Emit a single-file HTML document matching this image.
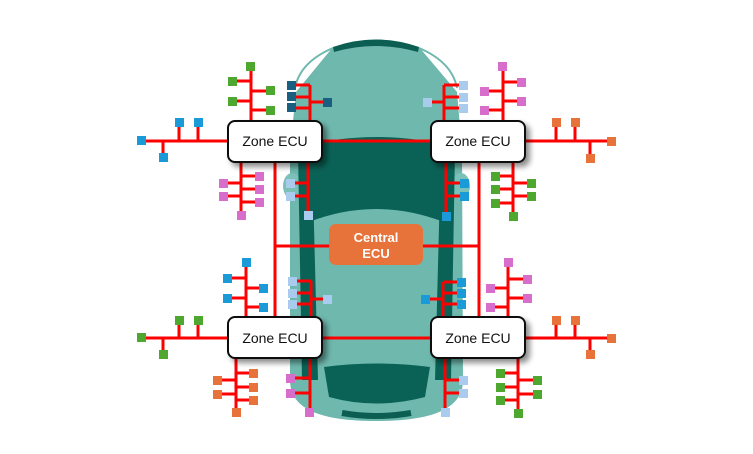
<!DOCTYPE html>
<html><head><meta charset="utf-8"><style>
html,body{margin:0;padding:0;background:#fff;}
svg{display:block;}
text{font-family:"Liberation Sans",sans-serif;}
</style></head><body>
<svg width="753" height="454" viewBox="0 0 753 454" xmlns="http://www.w3.org/2000/svg">
<defs>
<filter id="sh" x="-20%" y="-20%" width="150%" height="160%"><feGaussianBlur in="SourceAlpha" stdDeviation="3"/><feOffset dx="4" dy="4"/><feComponentTransfer><feFuncA type="linear" slope="0.45"/></feComponentTransfer><feMerge><feMergeNode/><feMergeNode in="SourceGraphic"/></feMerge></filter>
</defs>
<!-- car -->
<path d="M333 48 Q300 62 295 88 M419 48 Q452 62 457 88" fill="none" stroke="#6fb8ae" stroke-width="2"/>
<path d="M333 47 Q376 32 419 47 L457 92 L462 150 L463 380 C463 410 430 421 376 421 C322 421 290 410 290 380 L290 150 L296 92 Z" fill="#6fb8ae"/>
<path d="M333 47 Q376 32 419 47 L418 52 Q376 40 334 52 Z" fill="#0c5e52"/>
<ellipse cx="292" cy="186" rx="9" ry="13" fill="#7cc1b7"/>
<ellipse cx="461" cy="186" rx="9" ry="13" fill="#7cc1b7"/>
<path d="M298 150 L312 150 L318 380 L302 380 Z" fill="#0a6256"/>
<path d="M455 150 L441 150 L435 380 L451 380 Z" fill="#0a6256"/>
<path d="M303 146 Q376 128 450 146 L444 222 Q376 196 309 222 Z" fill="#0a6256"/>
<path d="M324 367 Q376 360 430 367 L425 397 Q376 410 329 397 Z" fill="#0a6256"/>
<path d="M342 413 Q376 419 411 413" fill="none" stroke="#0c5e52" stroke-width="6"/>
<g stroke="#ff0000" stroke-width="3" fill="none">
<line x1="322" y1="141" x2="430" y2="141"/>
<line x1="322" y1="338" x2="430" y2="338"/>
<line x1="275" y1="162" x2="275" y2="316"/>
<line x1="479" y1="162" x2="479" y2="316"/>
<line x1="275" y1="246" x2="330" y2="246"/>
<line x1="423" y1="246" x2="479" y2="246"/>
<line x1="141" y1="141" x2="227" y2="141"/><line x1="179" y1="141" x2="179" y2="125"/><line x1="198" y1="141" x2="198" y2="125"/><line x1="163" y1="141" x2="163" y2="155"/>
<line x1="251" y1="66" x2="251" y2="120"/><line x1="233" y1="81" x2="251" y2="81"/><line x1="233" y1="101" x2="251" y2="101"/><line x1="251" y1="91" x2="270" y2="91"/><line x1="251" y1="110" x2="270" y2="110"/>
<line x1="296" y1="85" x2="310" y2="85"/><line x1="310" y1="85" x2="310" y2="120"/><line x1="296" y1="97" x2="310" y2="97"/><line x1="296" y1="108" x2="310" y2="108"/><line x1="310" y1="102" x2="325" y2="102"/>
<line x1="241" y1="162" x2="241" y2="214"/><line x1="223" y1="183" x2="241" y2="183"/><line x1="223" y1="196" x2="241" y2="196"/><line x1="241" y1="176" x2="258" y2="176"/><line x1="241" y1="189" x2="258" y2="189"/><line x1="241" y1="202" x2="258" y2="202"/>
<line x1="308" y1="162" x2="308" y2="214"/><line x1="290" y1="183" x2="308" y2="183"/><line x1="290" y1="196" x2="308" y2="196"/>
<line x1="141" y1="338" x2="227" y2="338"/><line x1="179" y1="338" x2="179" y2="322"/><line x1="198" y1="338" x2="198" y2="322"/><line x1="163" y1="338" x2="163" y2="352"/>
<line x1="246" y1="262" x2="246" y2="316"/><line x1="228" y1="278" x2="246" y2="278"/><line x1="228" y1="298" x2="246" y2="298"/><line x1="246" y1="288" x2="262" y2="288"/><line x1="246" y1="307" x2="262" y2="307"/>
<line x1="296" y1="281" x2="311" y2="281"/><line x1="311" y1="281" x2="311" y2="316"/><line x1="296" y1="293" x2="311" y2="293"/><line x1="296" y1="304" x2="311" y2="304"/><line x1="311" y1="299" x2="325" y2="299"/>
<line x1="236" y1="359" x2="236" y2="410"/><line x1="218" y1="380" x2="236" y2="380"/><line x1="218" y1="394" x2="236" y2="394"/><line x1="236" y1="373" x2="252" y2="373"/><line x1="236" y1="387" x2="252" y2="387"/><line x1="236" y1="400" x2="252" y2="400"/>
<line x1="310" y1="359" x2="310" y2="410"/><line x1="291" y1="378" x2="310" y2="378"/><line x1="291" y1="393" x2="310" y2="393"/>
<line x1="526" y1="141" x2="612" y2="141"/><line x1="556" y1="141" x2="556" y2="125"/><line x1="575" y1="141" x2="575" y2="125"/><line x1="590" y1="141" x2="590" y2="156"/>
<line x1="503" y1="66" x2="503" y2="120"/><line x1="485" y1="91" x2="503" y2="91"/><line x1="485" y1="110" x2="503" y2="110"/><line x1="503" y1="82" x2="521" y2="82"/><line x1="503" y1="101" x2="521" y2="101"/>
<line x1="444" y1="85" x2="459" y2="85"/><line x1="444" y1="85" x2="444" y2="120"/><line x1="444" y1="97" x2="459" y2="97"/><line x1="444" y1="108" x2="459" y2="108"/><line x1="430" y1="102" x2="444" y2="102"/>
<line x1="513" y1="162" x2="513" y2="214"/><line x1="495" y1="176" x2="513" y2="176"/><line x1="495" y1="189" x2="513" y2="189"/><line x1="495" y1="203" x2="513" y2="203"/><line x1="513" y1="183" x2="531" y2="183"/><line x1="513" y1="196" x2="531" y2="196"/>
<line x1="446" y1="162" x2="446" y2="214"/><line x1="446" y1="183" x2="463" y2="183"/><line x1="446" y1="196" x2="463" y2="196"/>
<line x1="526" y1="338" x2="612" y2="338"/><line x1="556" y1="338" x2="556" y2="322"/><line x1="575" y1="338" x2="575" y2="322"/><line x1="590" y1="338" x2="590" y2="352"/>
<line x1="508" y1="262" x2="508" y2="316"/><line x1="490" y1="288" x2="508" y2="288"/><line x1="490" y1="307" x2="508" y2="307"/><line x1="508" y1="279" x2="527" y2="279"/><line x1="508" y1="298" x2="527" y2="298"/>
<line x1="443" y1="282" x2="458" y2="282"/><line x1="443" y1="282" x2="443" y2="316"/><line x1="443" y1="293" x2="458" y2="293"/><line x1="443" y1="304" x2="458" y2="304"/><line x1="428" y1="299" x2="443" y2="299"/>
<line x1="518" y1="359" x2="518" y2="412"/><line x1="500" y1="373" x2="518" y2="373"/><line x1="500" y1="387" x2="518" y2="387"/><line x1="500" y1="400" x2="518" y2="400"/><line x1="518" y1="380" x2="537" y2="380"/><line x1="518" y1="394" x2="537" y2="394"/>
<line x1="445" y1="359" x2="445" y2="410"/><line x1="445" y1="380" x2="463" y2="380"/><line x1="445" y1="393" x2="463" y2="393"/>
</g>
<g fill="#1a9ad6"><rect x="137" y="136" width="9" height="9"/><rect x="175" y="118" width="9" height="9"/><rect x="194" y="118" width="9" height="9"/><rect x="159" y="153" width="9" height="9"/>
<rect x="242" y="258" width="9" height="9"/><rect x="223" y="274" width="9" height="9"/><rect x="223" y="294" width="9" height="9"/><rect x="259" y="284" width="9" height="9"/><rect x="259" y="303" width="9" height="9"/>
<rect x="460" y="179" width="9" height="9"/><rect x="460" y="192" width="9" height="9"/><rect x="442" y="212" width="9" height="9"/>
<rect x="457" y="278" width="9" height="9"/><rect x="457" y="289" width="9" height="9"/><rect x="457" y="300" width="9" height="9"/><rect x="421" y="295" width="9" height="9"/></g>
<g fill="#4ea72e"><rect x="246" y="62" width="9" height="9"/><rect x="228" y="77" width="9" height="9"/><rect x="228" y="97" width="9" height="9"/><rect x="266" y="86" width="9" height="9"/><rect x="266" y="106" width="9" height="9"/>
<rect x="137" y="333" width="9" height="9"/><rect x="175" y="316" width="9" height="9"/><rect x="194" y="316" width="9" height="9"/><rect x="159" y="350" width="9" height="9"/>
<rect x="491" y="172" width="9" height="9"/><rect x="491" y="185" width="9" height="9"/><rect x="491" y="199" width="9" height="9"/><rect x="527" y="179" width="9" height="9"/><rect x="527" y="192" width="9" height="9"/><rect x="509" y="212" width="9" height="9"/>
<rect x="496" y="369" width="9" height="9"/><rect x="496" y="383" width="9" height="9"/><rect x="496" y="396" width="9" height="9"/><rect x="533" y="376" width="9" height="9"/><rect x="533" y="390" width="9" height="9"/><rect x="514" y="409" width="9" height="9"/></g>
<g fill="#1a5e80"><rect x="287" y="81" width="9" height="9"/><rect x="287" y="92" width="9" height="9"/><rect x="287" y="103" width="9" height="9"/><rect x="323" y="98" width="9" height="9"/></g>
<g fill="#d86ecc"><rect x="219" y="179" width="9" height="9"/><rect x="219" y="192" width="9" height="9"/><rect x="255" y="172" width="9" height="9"/><rect x="255" y="185" width="9" height="9"/><rect x="255" y="198" width="9" height="9"/><rect x="237" y="211" width="9" height="9"/>
<rect x="286" y="374" width="9" height="9"/><rect x="286" y="389" width="9" height="9"/><rect x="305" y="408" width="9" height="9"/>
<rect x="498" y="62" width="9" height="9"/><rect x="480" y="87" width="9" height="9"/><rect x="480" y="106" width="9" height="9"/><rect x="517" y="78" width="9" height="9"/><rect x="517" y="97" width="9" height="9"/>
<rect x="504" y="258" width="9" height="9"/><rect x="486" y="284" width="9" height="9"/><rect x="486" y="303" width="9" height="9"/><rect x="523" y="275" width="9" height="9"/><rect x="523" y="294" width="9" height="9"/></g>
<g fill="#a8cbee"><rect x="286" y="179" width="9" height="9"/><rect x="286" y="192" width="9" height="9"/><rect x="304" y="211" width="9" height="9"/>
<rect x="288" y="277" width="9" height="9"/><rect x="288" y="289" width="9" height="9"/><rect x="288" y="300" width="9" height="9"/><rect x="323" y="295" width="9" height="9"/>
<rect x="459" y="81" width="9" height="9"/><rect x="459" y="93" width="9" height="9"/><rect x="459" y="104" width="9" height="9"/><rect x="423" y="98" width="9" height="9"/>
<rect x="459" y="376" width="9" height="9"/><rect x="459" y="389" width="9" height="9"/><rect x="441" y="408" width="9" height="9"/></g>
<g fill="#e8733a"><rect x="213" y="376" width="9" height="9"/><rect x="213" y="390" width="9" height="9"/><rect x="249" y="369" width="9" height="9"/><rect x="249" y="383" width="9" height="9"/><rect x="249" y="396" width="9" height="9"/><rect x="232" y="408" width="9" height="9"/>
<rect x="552" y="118" width="9" height="9"/><rect x="571" y="118" width="9" height="9"/><rect x="607" y="137" width="9" height="9"/><rect x="586" y="154" width="9" height="9"/>
<rect x="552" y="316" width="9" height="9"/><rect x="571" y="316" width="9" height="9"/><rect x="607" y="334" width="9" height="9"/><rect x="586" y="350" width="9" height="9"/></g>
<rect x="329" y="224" width="94" height="41" rx="7" fill="#e8733a"/>
<text x="376" y="242" fill="#fff" font-size="13" font-weight="bold" text-anchor="middle">Central</text>
<text x="376" y="258" fill="#fff" font-size="13" font-weight="bold" text-anchor="middle">ECU</text>
<g filter="url(#sh)" fill="#fff" stroke="#111" stroke-width="2">
<rect x="228" y="121" width="94" height="41" rx="7"/><rect x="431" y="121" width="94" height="41" rx="7"/>
<rect x="228" y="317" width="94" height="41" rx="7"/><rect x="431" y="317" width="94" height="41" rx="7"/></g>
<g font-size="14" text-anchor="middle" fill="#111">
<text x="275" y="146">Zone ECU</text><text x="478" y="146">Zone ECU</text>
<text x="275" y="343">Zone ECU</text><text x="478" y="343">Zone ECU</text></g>
</svg>
</body></html>
